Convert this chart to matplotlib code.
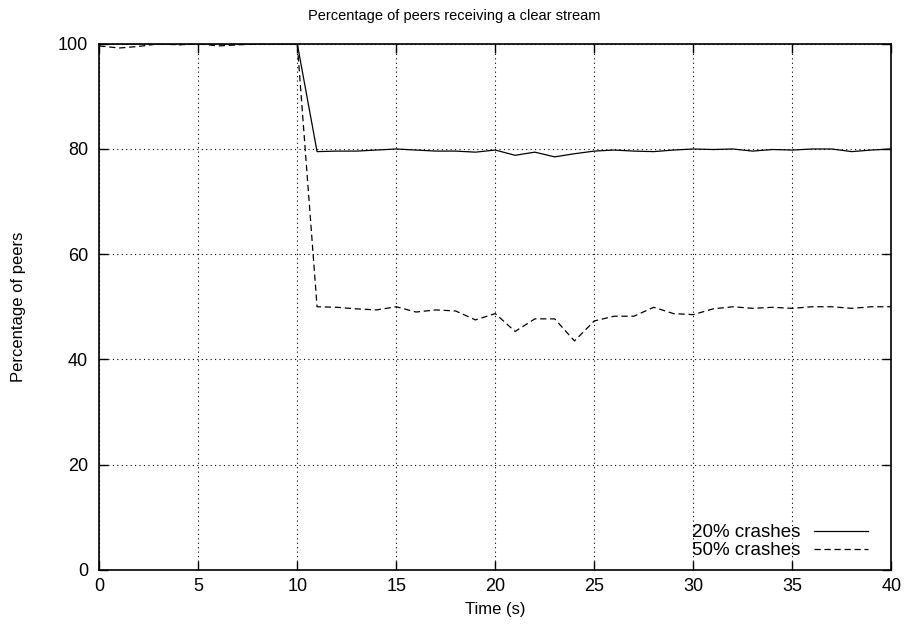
import numpy as np
import matplotlib
matplotlib.use("Agg")
import matplotlib.pyplot as plt

plt.rcParams['font.family'] = ['Liberation Sans', 'DejaVu Sans']

# time axis (seconds)
time_s = list(range(0, 41))

# percentage of peers, 20% crashes
crash20 = [100, 100, 100, 100, 100, 100, 100, 100, 100, 100, 100,
           79.5, 79.6, 79.6, 79.8, 80.0, 79.8, 79.6, 79.6, 79.4, 79.8,
           78.8, 79.4, 78.5, 79.1, 79.6, 79.8, 79.6, 79.5, 79.8, 80.0,
           79.9, 80.0, 79.6, 79.9, 79.8, 80.0, 80.0, 79.5, 79.8, 80.0]

# percentage of peers, 50% crashes
crash50 = [99.6, 99.2, 99.5, 100, 99.8, 100, 99.6, 99.8, 100, 100, 100,
           50.0, 49.9, 49.6, 49.4, 50.0, 49.0, 49.4, 49.2, 47.5, 48.7,
           45.3, 47.7, 47.7, 43.5, 47.3, 48.2, 48.2, 49.9, 48.7, 48.5,
           49.6, 50.0, 49.7, 49.9, 49.7, 50.0, 50.0, 49.7, 50.0, 50.0]

x_ticks = [0, 5, 10, 15, 20, 25, 30, 35, 40]
y_ticks = [0, 20, 40, 60, 80, 100]


def main():
    fig = plt.figure(figsize=(9.09, 6.34), dpi=100)
    ax = fig.add_axes([0.1092, 0.1014, 0.8713, 0.8295])

    ax.plot(time_s, crash20, color='black', lw=0.9, label='20% crashes')
    ax.plot(time_s, crash50, color='black', lw=0.9, ls=(0, (5, 3)),
            label='50% crashes')

    ax.set_xlim(0, 40)
    ax.set_ylim(0, 100)
    ax.set_xticks(x_ticks)
    ax.set_yticks(y_ticks)
    ax.tick_params(direction='in', length=6.5, width=1, top=True, right=True,
                   labelsize=13, colors='black')
    ax.tick_params(axis='x', pad=6)
    ax.tick_params(axis='y', pad=8)
    for sp in ax.spines.values():
        sp.set_linewidth(1.2)

    ax.grid(True, ls=(0, (1, 3)), color='black', lw=0.8)

    ax.set_xlabel('Time (s)', fontsize=12, labelpad=5)
    ax.set_ylabel('Percentage of peers', fontsize=12)
    ax.yaxis.set_label_coords(-0.092, 0.5)
    # title centred on the whole figure
    fig.text(0.5, 0.975, 'Percentage of peers receiving a clear stream',
             fontsize=10.5, ha='center', va='center')

    ax.legend(loc='lower right', bbox_to_anchor=(0.9706, 0.02),
              frameon=False, fontsize=13.5, markerfirst=False,
              handlelength=2.9, handletextpad=0.7, labelspacing=0.05,
              borderaxespad=0, borderpad=0)

    fig.savefig('out.png', dpi=100)


if __name__ == "__main__":
    main()
